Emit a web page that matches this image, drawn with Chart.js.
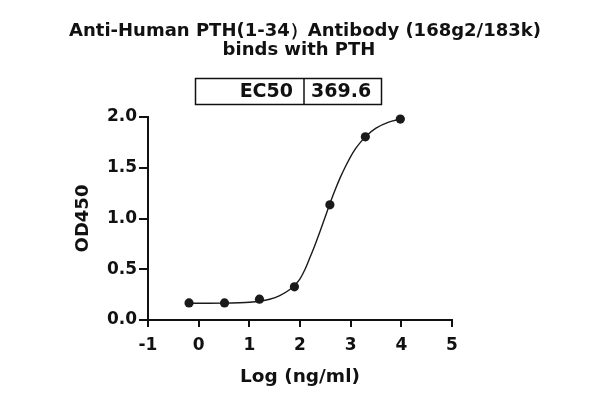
<!DOCTYPE html>
<html>
<head>
<meta charset="utf-8">
<script src="https://cdn.jsdelivr.net/npm/chart.js@4/dist/chart.umd.min.js"></script>
<style>
  html, body { margin: 0; padding: 0; background: #fff; }
  #chart { display: block; }
</style>
</head>
<body>
<canvas id="chart" width="600" height="403"></canvas>
<script>
// measured points, log concentration vs OD450
const logConc = [-0.19, 0.51, 1.2, 1.89, 2.59, 3.29, 3.98];
const od450 = [0.168, 0.168, 0.205, 0.327, 1.135, 1.805, 1.98];

// fitted curve
const fitX = [-0.19, 0.2, 0.5, 0.8, 1.0, 1.2, 1.4, 1.6, 1.8, 1.9, 2.0, 2.1, 2.2, 2.3, 2.4, 2.5, 2.6, 2.7, 2.8, 2.9, 3.0, 3.1, 3.2, 3.3, 3.5, 3.75, 3.98];
const fitY = [0.165, 0.165, 0.166, 0.17, 0.175, 0.185, 0.204, 0.24, 0.3, 0.345, 0.405, 0.5, 0.62, 0.745, 0.88, 1.02, 1.16, 1.29, 1.41, 1.515, 1.61, 1.69, 1.755, 1.81, 1.89, 1.95, 1.98];

const titleLines = ["Anti-Human PTH(1-34）Antibody (168g2/183k)", "binds with PTH"];
const ec50Label = "EC50";
const ec50Value = "369.6";

const fontFam = "'DejaVu Sans', 'Liberation Sans', Arial, sans-serif";
Chart.defaults.font.family = fontFam;
Chart.defaults.color = "#111";

// title + EC50 table above the plot
const header = {
  id: "header",
  afterDraw(chart) {
    const c = chart.ctx;
    c.save();
    c.fillStyle = "#111";
    c.textBaseline = "middle";
    c.textAlign = "center";
    c.font = "bold 18px " + fontFam;
    c.fillText(titleLines[0], 305, 31);
    c.fillText(titleLines[1], 299, 50);

    c.strokeStyle = "#111";
    c.lineWidth = 1.5;
    c.strokeRect(195.5, 78.5, 186, 26);
    c.beginPath();
    c.moveTo(304, 78.5);
    c.lineTo(304, 104.5);
    c.stroke();
    c.font = "bold 19px " + fontFam;
    c.textAlign = "right";
    c.fillText(ec50Label, 293, 92);
    c.textAlign = "left";
    c.fillText(ec50Value, 311, 92);
    c.restore();
  },
};

const ctx = document.querySelector("#chart").getContext("2d");

new Chart(ctx, {
  type: "scatter",
  data: {
    datasets: [
      {
        label: "fit",
        data: fitX.map((x, i) => ({ x: x, y: fitY[i] })),
        showLine: true,
        borderColor: "#1a1a1a",
        borderWidth: 1.4,
        pointRadius: 0,
        cubicInterpolationMode: "monotone",
        clip: false,
      },
      {
        label: "OD450",
        data: logConc.map((x, i) => ({ x: x, y: od450[i] })),
        backgroundColor: "#1a1a1a",
        borderWidth: 0,
        pointRadius: 4.6,
        clip: false,
      },
    ],
  },
  options: {
    responsive: false,
    animation: false,
    layout: { padding: { left: 72, right: 148, top: 117, bottom: 0 } },
    plugins: {
      legend: { display: false },
      tooltip: { enabled: false },
      title: { display: false },
    },
    scales: {
      x: {
        type: "linear",
        min: -1,
        max: 5,
        afterFit: (s) => { s.height = 83; },
        ticks: { stepSize: 1, padding: 8, font: { size: 17, weight: "bold" }, color: "#111" },
        grid: { drawOnChartArea: false, drawTicks: true, tickLength: 7, color: "#111", lineWidth: 2 },
        border: { color: "#111", width: 2 },
        title: {
          display: true,
          text: "Log (ng/ml)",
          color: "#111",
          font: { size: 18.5, weight: "bold" },
          padding: { top: 14, bottom: 15 },
        },
      },
      y: {
        min: 0,
        max: 2,
        afterFit: (s) => { s.width = 76; },
        ticks: {
          stepSize: 0.5,
          padding: 2,
          font: { size: 17, weight: "bold" },
          color: "#111",
          callback: (v) => v.toFixed(1),
        },
        grid: { drawOnChartArea: false, drawTicks: true, tickLength: 9, color: "#111", lineWidth: 2 },
        border: { color: "#111", width: 2 },
        title: {
          display: true,
          text: "OD450",
          color: "#111",
          font: { size: 18, weight: "bold" },
          padding: { top: 1, bottom: 0 },
        },
      },
    },
  },
  plugins: [header],
});
</script>
</body>
</html>
